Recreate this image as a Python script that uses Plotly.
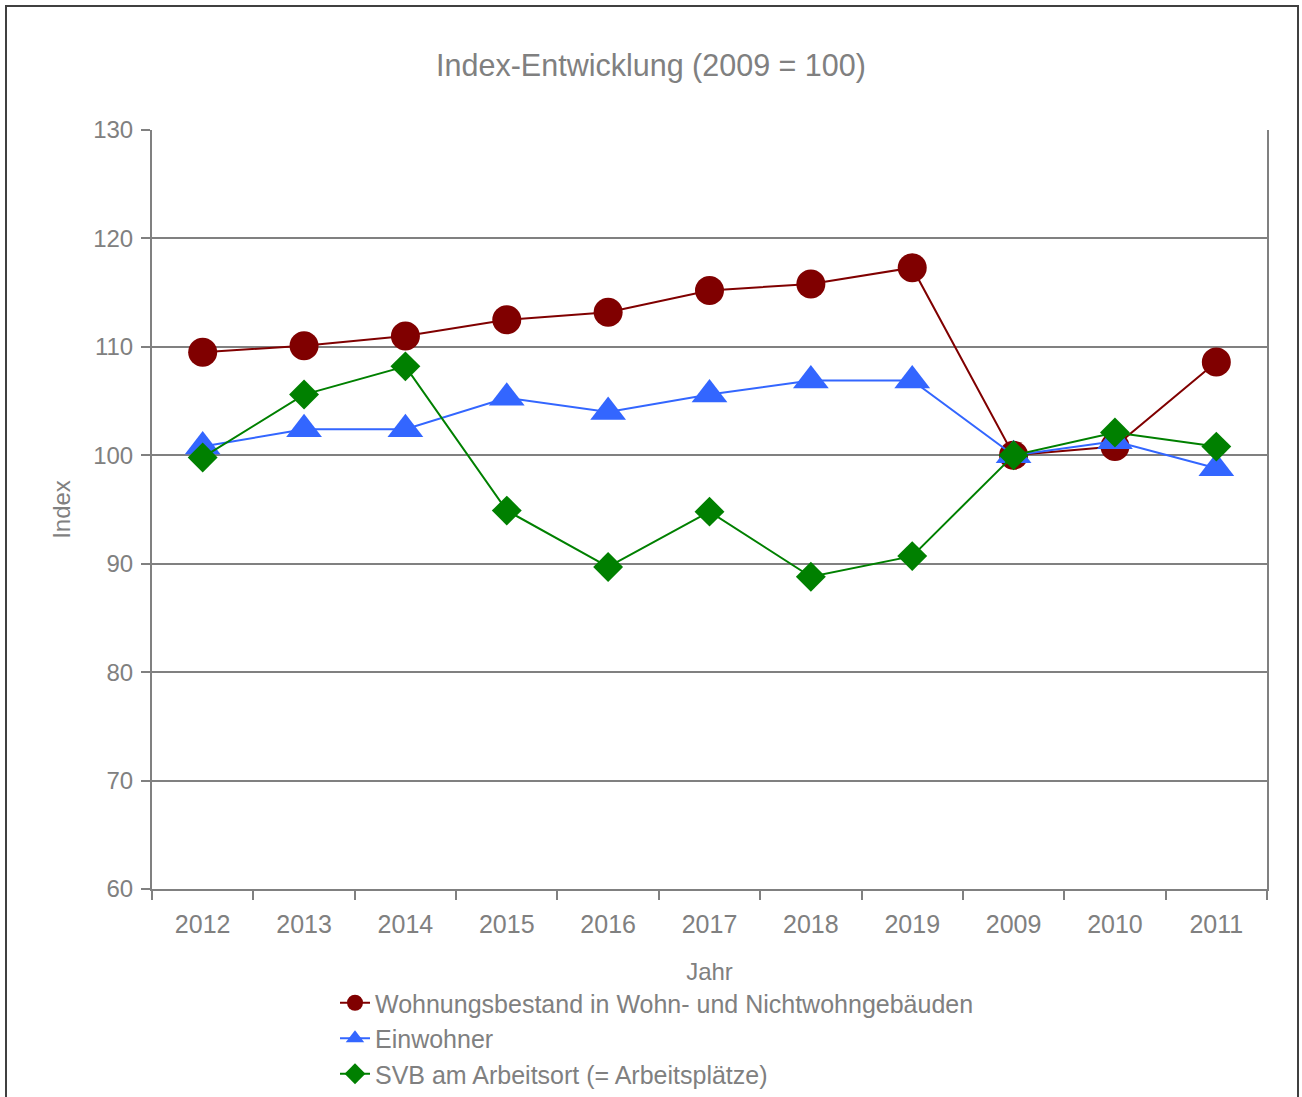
import plotly.graph_objects as go

years = ["2012", "2013", "2014", "2015", "2016", "2017", "2018", "2019", "2009", "2010", "2011"]
wohnungsbestand = [109.5, 110.1, 111.0, 112.5, 113.2, 115.2, 115.8, 117.3, 100.0, 100.8, 108.6]
einwohner = [100.8, 102.4, 102.4, 105.3, 104.0, 105.6, 106.9, 106.9, 100.0, 101.3, 98.8]
svb = [99.8, 105.6, 108.2, 94.9, 89.7, 94.8, 88.8, 90.7, 100.0, 102.1, 100.8]

names = ["Wohnungsbestand in Wohn- und Nichtwohngebäuden", "Einwohner", "SVB am Arbeitsort (= Arbeitsplätze)"]
colors = ["#800000", "#3366FF", "#008000"]

FONT = "Liberation Sans, Arial, sans-serif"
GRAY = "#808080"

fig = go.Figure()
fig.add_trace(go.Scatter(x=years, y=wohnungsbestand, name=names[0], mode="lines+markers",
                         line=dict(color=colors[0], width=2),
                         marker=dict(symbol="circle", size=29, color=colors[0])))
fig.add_trace(go.Scatter(x=years, y=einwohner, name=names[1], mode="lines+markers",
                         line=dict(color=colors[1], width=2),
                         marker=dict(symbol="triangle-up", size=31, color=colors[1])))
fig.add_trace(go.Scatter(x=years, y=svb, name=names[2], mode="lines+markers",
                         line=dict(color=colors[2], width=2),
                         marker=dict(symbol="diamond", size=23, color=colors[2])))

W, H = 1302, 1097
L, R, T, B = 152, 1302 - 1267, 130, 1097 - 889
pw, ph = W - L - R, H - T - B

def px(x):
    return (x - L) / pw

def py(y):
    return (H - B - y) / ph

fig.update_layout(
    width=W, height=H,
    margin=dict(l=L, r=R, t=T, b=B, autoexpand=False),
    paper_bgcolor="white", plot_bgcolor="white",
    font=dict(family=FONT, color=GRAY, size=24),
    title=dict(text="Index-Entwicklung (2009 = 100)", x=0.5, xref="container",
               y=1 - 65 / H, yref="container", yanchor="middle",
               font=dict(size=30.5, color=GRAY, family=FONT)),
    showlegend=True,
    legend=dict(x=px(335), y=py(980), xanchor="left", yanchor="top",
                font=dict(size=25, color=GRAY, family=FONT),
                bgcolor="rgba(0,0,0,0)", tracegroupgap=0),
    xaxis=dict(type="category", range=[-0.5, len(years) - 0.5],
               showgrid=False, showline=True, linecolor=GRAY, linewidth=2,
               ticks="outside", tickson="boundaries", ticklen=9, tickcolor=GRAY, tickwidth=2,
               tickfont=dict(size=25, color=GRAY), ticklabelstandoff=12,
               title=dict(text="Jahr", font=dict(size=24, color=GRAY), standoff=26),
               zeroline=False),
    yaxis=dict(range=[60, 130], dtick=10, showgrid=True, gridcolor=GRAY, gridwidth=2,
               showline=True, linecolor=GRAY, linewidth=2, mirror=True,
               ticks="outside", ticklen=9, tickcolor=GRAY, tickwidth=2,
               tickfont=dict(size=24, color=GRAY), ticklabelstandoff=3,
               title=dict(text="Index", font=dict(size=24, color=GRAY), standoff=16),
               zeroline=False),
    shapes=[dict(type="rect", xref="paper", yref="paper",
                 x0=px(6), x1=px(1298), y0=py(1110), y1=py(6),
                 line=dict(color="#404040", width=2), fillcolor="rgba(0,0,0,0)", layer="below")],
)

fig.write_html("out.html", config={"displayModeBar": False},
               post_script="document.body.style.margin='0';")
